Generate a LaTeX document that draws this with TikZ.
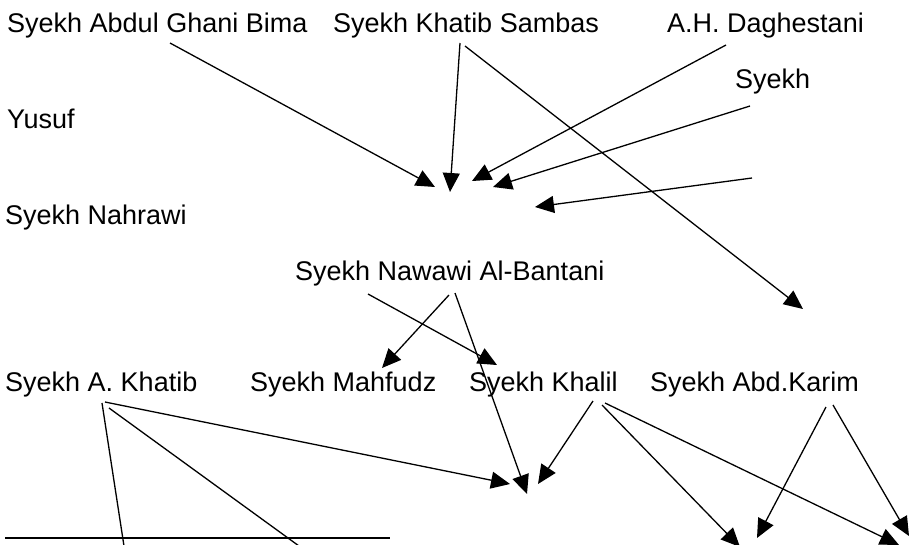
\documentclass[tikz,border=0pt]{standalone}
\usepackage{fontspec}
\setmainfont{Liberation Sans}
\usetikzlibrary{arrows.meta}
\begin{document}
\begin{tikzpicture}[x=1pt,y=-1pt,
  sheikh/.style={inner sep=0pt,anchor=base west,font=\fontsize{27}{30}\selectfont},
  link/.style={line width=1.3pt,-{Triangle[length=19pt,width=17pt]}},
  plain/.style={line width=1.3pt}]
\useasboundingbox (0,0) rectangle (911,544);
\clip (0,0) rectangle (911,544);

% names
\node[sheikh] (bima)    at (7,32)   {Syekh Abdul Ghani Bima};
\node[sheikh] (sambas)  at (333,32) {Syekh Khatib Sambas};
\node[sheikh] (dagh)    at (667,32) {A.H. Daghestani};
\node[sheikh] (syekh)   at (735,88) {Syekh};
\node[sheikh] (yusuf)   at (7,128)  {Yusuf};
\node[sheikh] (nahrawi) at (5,224)  {Syekh Nahrawi};
\node[sheikh] (nawawi)  at (295,280) {Syekh Nawawi Al-Bantani};
\node[sheikh] (akhatib) at (5,391)  {Syekh A. Khatib};
\node[sheikh] (mahfudz) at (250,391) {Syekh Mahfudz};
\node[sheikh] (khalil)  at (469,391) {Syekh Khalil};
\node[sheikh] (karim)   at (650,391) {Syekh Abd.Karim};

% connector ends
\coordinate (b1s) at (170,43);  \coordinate (b1t) at (435,187);
\coordinate (s1s) at (460,43);  \coordinate (s1t) at (450,192);
\coordinate (s2s) at (465,46);  \coordinate (s2t) at (803,309);
\coordinate (d1s) at (726,45);  \coordinate (d1t) at (472,181);
\coordinate (k1s) at (750,106); \coordinate (k1t) at (493,187);
\coordinate (e1s) at (752,178); \coordinate (e1t) at (535,207);
\coordinate (n1s) at (449,295); \coordinate (n1t) at (382,368);
\coordinate (n2s) at (368,294); \coordinate (n2t) at (497,365);
\coordinate (n3s) at (455,293); \coordinate (n3t) at (527,494);
\coordinate (a1s) at (105,402); \coordinate (a1t) at (510,484);
\coordinate (a2s) at (102,403); \coordinate (a2e) at (124,546);
\coordinate (a3s) at (109,408); \coordinate (a3e) at (299,546);
\coordinate (h1s) at (593,401); \coordinate (h1t) at (538,484);
\coordinate (h2s) at (602,405); \coordinate (h2t) at (740,547);
\coordinate (h3s) at (605,403); \coordinate (h3t) at (899,545);
\coordinate (c1s) at (826,407); \coordinate (c1t) at (757,538);
\coordinate (c2s) at (833,405); \coordinate (c2t) at (909,536);
\coordinate (rule1) at (5,538); \coordinate (rule2) at (390,538);

% arrows
\draw[link] (b1s) -- (b1t);
\draw[link] (s1s) -- (s1t);
\draw[link] (s2s) -- (s2t);
\draw[link] (d1s) -- (d1t);
\draw[link] (k1s) -- (k1t);
\draw[link] (e1s) -- (e1t);
\draw[link] (n1s) -- (n1t);
\draw[link] (n2s) -- (n2t);
\draw[link] (n3s) -- (n3t);
\draw[link] (a1s) -- (a1t);
\draw[plain] (a2s) -- (a2e);
\draw[plain] (a3s) -- (a3e);
\draw[link] (h1s) -- (h1t);
\draw[link] (h2s) -- (h2t);
\draw[link] (h3s) -- (h3t);
\draw[link] (c1s) -- (c1t);
\draw[link] (c2s) -- (c2t);
\draw[line width=2.2pt] (rule1) -- (rule2);
\end{tikzpicture}
\end{document}
